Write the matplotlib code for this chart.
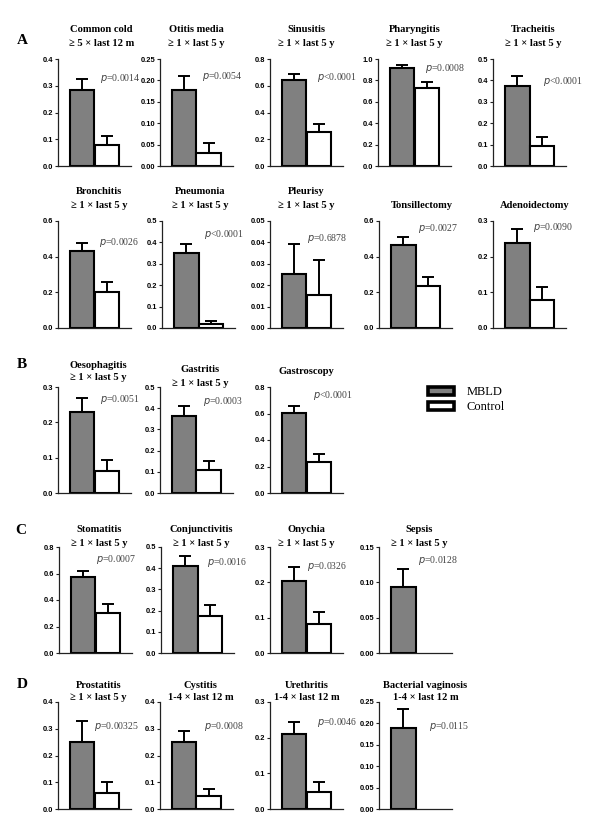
import matplotlib
matplotlib.use("Agg")
import matplotlib.pyplot as plt
from matplotlib.ticker import MultipleLocator, FormatStrFormatter
from matplotlib.patches import Patch

# ---------------- data ----------------
titles = ["Common cold", "Otitis media", "Sinusitis", "Pharyngitis", "Tracheitis",
          "Bronchitis", "Pneumonia", "Pleurisy", "Tonsillectomy", "Adenoidectomy",
          "Oesophagitis", "Gastritis", "Gastroscopy",
          "Stomatitis", "Conjunctivitis", "Onychia", "Sepsis",
          "Prostatitis", "Cystitis", "Urethritis", "Bacterial vaginosis"]
subtitles = ["\u2265 5 \u00d7 last 12 m", "\u2265 1 \u00d7 last 5 y", "\u2265 1 \u00d7 last 5 y",
             "\u2265 1 \u00d7 last 5 y", "\u2265 1 \u00d7 last 5 y",
             "\u2265 1 \u00d7 last 5 y", "\u2265 1 \u00d7 last 5 y", "\u2265 1 \u00d7 last 5 y", "", "",
             "\u2265 1 \u00d7 last 5 y", "\u2265 1 \u00d7 last 5 y", "",
             "\u2265 1 \u00d7 last 5 y", "\u2265 1 \u00d7 last 5 y", "\u2265 1 \u00d7 last 5 y",
             "\u2265 1 \u00d7 last 5 y",
             "\u2265 1 \u00d7 last 5 y", "1-4 \u00d7 last 12 m", "1-4 \u00d7 last 12 m",
             "1-4 \u00d7 last 12 m"]
mbld = [0.284, 0.178, 0.643, 0.916, 0.374,
        0.432, 0.350, 0.0252, 0.465, 0.238,
        0.229, 0.363, 0.604,
        0.574, 0.410, 0.204, 0.093,
        0.250, 0.250, 0.210, 0.190]
mbld_err = [0.041, 0.033, 0.045, 0.028, 0.046,
            0.045, 0.043, 0.0141, 0.045, 0.040,
            0.040, 0.047, 0.053,
            0.045, 0.048, 0.039, 0.026,
            0.079, 0.040, 0.034, 0.044]
control = [0.078, 0.030, 0.255, 0.729, 0.093,
           0.202, 0.017, 0.0154, 0.235, 0.0785,
           0.062, 0.108, 0.234,
           0.302, 0.175, 0.082, None,
           0.060, 0.049, 0.048, None]
control_err = [0.034, 0.024, 0.059, 0.056, 0.042,
               0.056, 0.016, 0.0164, 0.051, 0.0365,
               0.031, 0.043, 0.060,
               0.068, 0.051, 0.034, None,
               0.041, 0.026, 0.028, None]
p_labels = ["=0.0014", "=0.0054", "<0.0001", "=0.0008", "<0.0001",
            "=0.0026", "<0.0001", "=0.6878", "=0.0027", "=0.0090",
            "=0.0051", "=0.0003", "<0.0001",
            "=0.0007", "=0.0016", "=0.0326", "=0.0128",
            "=0.00325", "=0.0008", "=0.0046", "=0.0115"]
y_max = [0.4, 0.25, 0.8, 1.0, 0.5,
         0.6, 0.5, 0.05, 0.6, 0.3,
         0.3, 0.5, 0.8,
         0.8, 0.5, 0.3, 0.15,
         0.4, 0.4, 0.3, 0.25]
y_step = [0.1, 0.05, 0.2, 0.2, 0.1,
          0.2, 0.1, 0.01, 0.2, 0.1,
          0.1, 0.1, 0.2,
          0.2, 0.1, 0.1, 0.05,
          0.1, 0.1, 0.1, 0.05]
y_fmt = ["%.1f", "%.2f", "%.1f", "%.1f", "%.1f",
         "%.1f", "%.1f", "%.2f", "%.1f", "%.1f",
         "%.1f", "%.1f", "%.1f",
         "%.1f", "%.1f", "%.1f", "%.2f",
         "%.1f", "%.1f", "%.1f", "%.2f"]
group_letters = ["A", "B", "C", "D"]
series_names = ["MBLD", "Control"]

# ---------------- layout (pixels) ----------------
W, H = 600, 839
AX_W = 73
ax_left = [58, 160, 270, 378, 493,
           58, 162, 270, 379, 493,
           58, 160, 270,
           59, 161, 270, 379,
           58, 160, 270, 379]
ax_top = [59] * 5 + [221] * 5 + [387] * 3 + [547] * 4 + [702] * 4
ax_bot = [166] * 5 + [328] * 5 + [493] * 3 + [653] * 4 + [809] * 4
title_gap = [16] * 5 + [16] * 5 + [9, 4, 15] + [4] * 4 + [4] * 4
title_dx = [7, 0, 0, 0, 4,
            5, 2, 0, 6, 5,
            4, 4, 0,
            4, 4, 0, 4,
            4, 4, 0, 10]
p_pos = [(0.58, 0.82), (0.58, 0.84), (0.64, 0.83), (0.64, 0.91), (0.68, 0.79),
         (0.56, 0.80), (0.58, 0.87), (0.51, 0.84), (0.53, 0.93), (0.55, 0.94),
         (0.58, 0.88), (0.59, 0.86), (0.59, 0.92),
         (0.50, 0.88), (0.63, 0.85), (0.51, 0.82), (0.54, 0.87),
         (0.50, 0.77), (0.60, 0.77), (0.64, 0.81), (0.68, 0.77)]
letter_pos = [(22, 40), (22, 365), (21, 530), (22, 685)]

SERIF = ["Liberation Serif", "DejaVu Serif"]
SANS = ["Liberation Sans", "DejaVu Sans"]
GRAY = "#808080"

fig = plt.figure(figsize=(W / 100, H / 100), dpi=100)
fig.patch.set_facecolor("white")


def fx(x):
    return x / W


def fy(y):
    return 1 - y / H


for i in range(len(titles)):
    l, t, b = ax_left[i], ax_top[i], ax_bot[i]
    ax = fig.add_axes([fx(l), fy(b), AX_W / W, (b - t) / H])
    ax.bar([0], [mbld[i]], width=1.0, color=GRAY, edgecolor="black", linewidth=1.5, zorder=3)
    ax.errorbar([0], [mbld[i]], yerr=[[0], [mbld_err[i]]], fmt="none", ecolor="black",
                elinewidth=1.4, capsize=4.5, capthick=1.4, zorder=2)
    if control[i] is not None:
        ax.bar([1], [control[i]], width=1.0, color="white", edgecolor="black", linewidth=1.5, zorder=3)
        ax.errorbar([1], [control[i]], yerr=[[0], [control_err[i]]], fmt="none", ecolor="black",
                    elinewidth=1.4, capsize=4.5, capthick=1.4, zorder=2)
    ax.set_xlim(-1.0, 2.0)
    ax.set_ylim(0, y_max[i])
    ax.yaxis.set_major_locator(MultipleLocator(y_step[i]))
    ax.yaxis.set_major_formatter(FormatStrFormatter(y_fmt[i]))
    ax.set_xticks([])
    for s in ["top", "right"]:
        ax.spines[s].set_visible(False)
    for s in ["left", "bottom"]:
        ax.spines[s].set_linewidth(0.9)
        ax.spines[s].set_color("#222222")
    ax.spines["bottom"].set_zorder(4)
    ax.tick_params(axis="y", direction="out", length=2.5, width=0.8, pad=1,
                   labelsize=5.4, colors="#222222", labelcolor="black")
    for lab in ax.get_yticklabels():
        lab.set_fontweight("bold")
        lab.set_family(SANS)
    ax.patch.set_visible(False)

    px, py = p_pos[i]
    ax.text(px, py, "$\\it{p}$" + p_labels[i], transform=ax.transAxes, ha="left", va="center",
            fontsize=7.0, family=SERIF, color="#444444", clip_on=False)

    cx = l + AX_W / 2 + title_dx[i]
    if subtitles[i]:
        fig.text(fx(cx), fy(t - title_gap[i] - 13), titles[i], ha="center", va="center",
                 fontsize=7.6, fontweight="bold", family=SERIF)
        fig.text(fx(cx), fy(t - title_gap[i]), subtitles[i], ha="center", va="center",
                 fontsize=7.6, fontweight="bold", family=SERIF)
    else:
        fig.text(fx(cx), fy(t - title_gap[i]), titles[i], ha="center", va="center",
                 fontsize=7.6, fontweight="bold", family=SERIF)

for g, (lx, ly) in zip(group_letters, letter_pos):
    fig.text(fx(lx), fy(ly), g, ha="center", va="center", fontsize=11,
             fontweight="bold", family=SERIF)

handles = [Patch(facecolor=GRAY, edgecolor="black", linewidth=2.6, joinstyle="round"),
           Patch(facecolor="white", edgecolor="black", linewidth=2.6, joinstyle="round")]
leg = fig.legend(handles, series_names, loc="upper left",
                 bbox_to_anchor=(fx(428), fy(386)), frameon=False,
                 prop={"family": SERIF, "size": 9}, handlelength=2.1, handleheight=0.6,
                 handletextpad=1.0, labelspacing=0.25, borderpad=0, borderaxespad=0)

fig.savefig("out.png", dpi=100, facecolor="white")
